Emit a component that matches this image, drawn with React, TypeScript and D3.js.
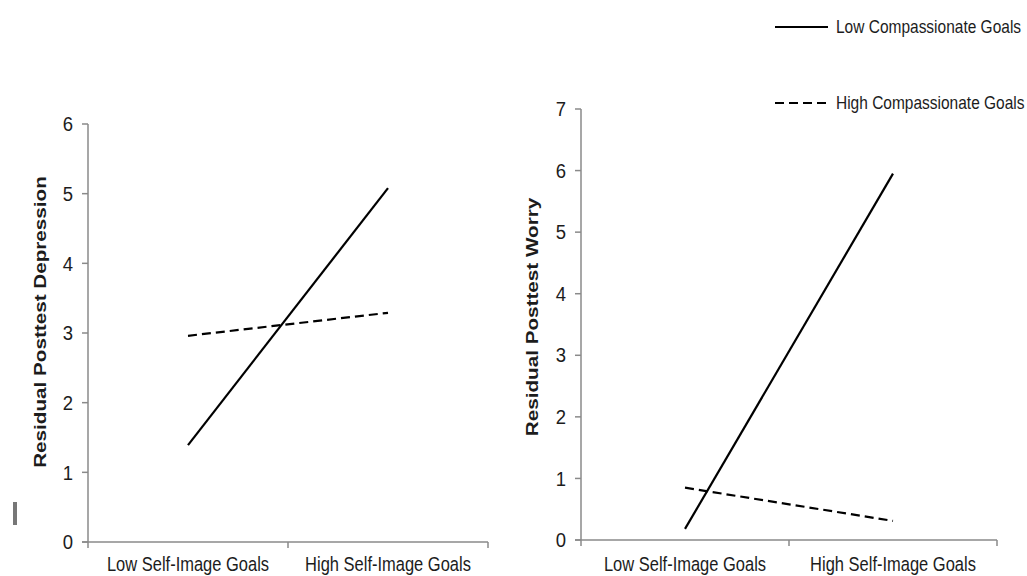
import React from 'react';
import * as d3 from 'd3';

// data
const goalLevels = ['Low Self-Image Goals', 'High Self-Image Goals'];
const seriesNames = ['Low Compassionate Goals', 'High Compassionate Goals'];
const depressionLowComp = [1.39, 5.08];
const depressionHighComp = [2.96, 3.29];
const worryLowComp = [0.18, 5.95];
const worryHighComp = [0.85, 0.31];
const depressionTicks = [0, 1, 2, 3, 4, 5, 6];
const worryTicks = [0, 1, 2, 3, 4, 5, 6, 7];

const FONT = 'Arial, "Liberation Sans", Helvetica, sans-serif';
const INK = '#1c1c1c';
const AXIS = '#8a8a8a';
const DASH = '9,5';

// the source image is stretched vertically, so the text is too
const SText = ({ x, y, sy, size, anchor = 'start', weight = 400, rotate = false, dy = '0', children }: any) => (
  <text
    transform={`translate(${x},${y}) scale(1,${sy})${rotate ? ' rotate(-90)' : ''}`}
    fontFamily={FONT}
    fontSize={size}
    fontWeight={weight}
    textAnchor={anchor}
    dy={dy}
    fill={INK}
  >
    {children}
  </text>
);

const Panel = ({ x0, x1, y0, y1, ticks, label, labelX, labelY, lowComp, highComp }: any) => {
  const x = d3.scaleBand<string>().domain(goalLevels).range([x0, x1]).paddingInner(0).paddingOuter(0);
  const y = d3.scaleLinear().domain([0, ticks[ticks.length - 1]]).range([y0, y1]);
  const cx = (d: string) => (x(d) as number) + x.bandwidth() / 2;
  const line = d3
    .line<number>()
    .x((_, i) => cx(goalLevels[i]))
    .y((v) => y(v));
  const bounds = [x0, ...goalLevels.map((g) => (x(g) as number) + x.bandwidth())];

  return (
    <g>
      {/* y axis */}
      <line x1={x0} x2={x0} y1={y(0)} y2={y(ticks[ticks.length - 1])} stroke={AXIS} strokeWidth={1.5} />
      {ticks.map((t: number) => (
        <g key={t}>
          <line x1={x0 - 6} x2={x0} y1={y(t)} y2={y(t)} stroke={AXIS} strokeWidth={1.5} />
          <SText x={x0 - 15} y={y(t)} sy={1.08} size={18.5} anchor="end" dy="0.36em">
            {t}
          </SText>
        </g>
      ))}
      {/* x axis */}
      <line x1={x0 - 6} x2={x1} y1={y(0)} y2={y(0)} stroke={AXIS} strokeWidth={1.5} />
      {bounds.map((b, i) => (
        <line key={i} x1={b} x2={b} y1={y(0)} y2={y(0) + 6} stroke={AXIS} strokeWidth={1.5} />
      ))}
      {goalLevels.map((g) => (
        <SText key={g} x={cx(g)} y={571} sy={1.18} size={16.5} anchor="middle">
          {g}
        </SText>
      ))}
      <SText x={labelX} y={labelY} sy={1.23} size={16.8} anchor="middle" weight={700} rotate>
        {label}
      </SText>
      {/* series */}
      <path d={line(lowComp) || ''} fill="none" stroke="#000" strokeWidth={2.2} />
      <path d={line(highComp) || ''} fill="none" stroke="#000" strokeWidth={2.2} strokeDasharray={DASH} />
    </g>
  );
};

export default function App() {
  return (
    <svg
      width={1027}
      height={576}
      style={{ position: 'absolute', left: 0, top: 0, background: '#fff' }}
    >
      <rect x={0} y={0} width={1027} height={576} fill="#fff" />
      <Panel
        x0={88}
        x1={488}
        y0={542}
        y1={124}
        ticks={depressionTicks}
        label="Residual Posttest Depression"
        labelX={46}
        labelY={322}
        lowComp={depressionLowComp}
        highComp={depressionHighComp}
      />
      <Panel
        x0={581}
        x1={997}
        y0={540}
        y1={109}
        ticks={worryTicks}
        label="Residual Posttest Worry"
        labelX={538}
        labelY={317}
        lowComp={worryLowComp}
        highComp={worryHighComp}
      />
      {/* legend */}
      {seriesNames.map((name, i) => {
        const ly = i === 0 ? 27 : 103;
        return (
          <g key={name}>
            <line
              x1={775}
              x2={828}
              y1={ly}
              y2={ly}
              stroke="#000"
              strokeWidth={2.2}
              strokeDasharray={i === 0 ? undefined : DASH}
            />
            <SText x={836} y={ly} sy={1.15} size={15.5} dy="0.36em">
              {name}
            </SText>
          </g>
        );
      })}
      {/* small grey mark at the left edge of the source image */}
      <rect x={13} y={502} width={4} height={23} fill="#777" />
    </svg>
  );
}
